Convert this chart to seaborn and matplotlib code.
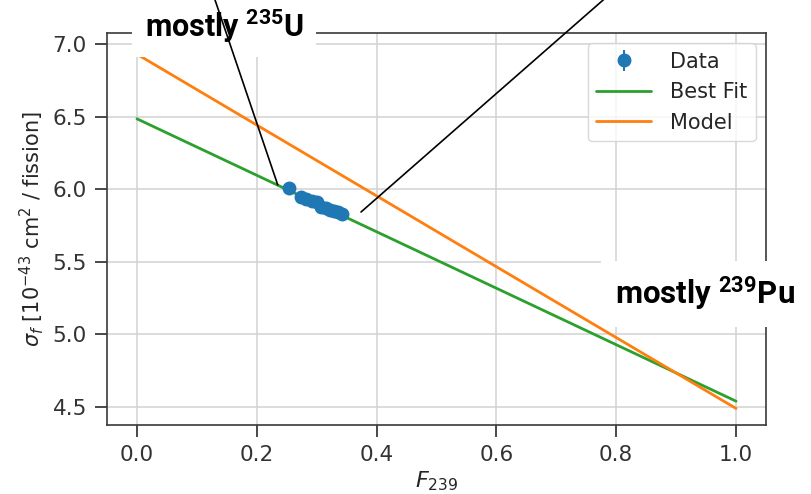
import matplotlib
matplotlib.use("Agg")
import matplotlib.pyplot as plt
import seaborn as sns
import pandas as pd

# ---- data ----
F239 = [0.254, 0.274, 0.283, 0.292, 0.300, 0.308, 0.315, 0.322, 0.329, 0.336, 0.343]
sigma = [6.01, 5.945, 5.935, 5.92, 5.91, 5.88, 5.87, 5.86, 5.85, 5.84, 5.83]
sigma_err = [0.012, 0.012, 0.012, 0.012, 0.012, 0.012, 0.012, 0.012, 0.012, 0.012, 0.012]
fit_x = [0.0, 1.0]
fit_y = [6.485, 4.54]
model_x = [0.0, 1.0]
model_y = [6.93, 4.49]
xticks = [0.0, 0.2, 0.4, 0.6, 0.8, 1.0]
yticks = [4.5, 5.0, 5.5, 6.0, 6.5, 7.0]
label_u = r"mostly $^{\mathbf{235}}$U"
label_pu = r"mostly $^{\mathbf{239}}$Pu"
arrow_u = (0.235, 6.03)
arrow_pu = (0.374, 5.843)

sns.set_theme(style="whitegrid")
plt.rcParams.update({
    "font.family": ["DejaVu Sans"],
    "mathtext.fontset": "custom",
    "mathtext.rm": "DejaVu Sans",
    "mathtext.it": "DejaVu Sans:italic",
    "mathtext.bf": "Roboto:bold",
    "axes.edgecolor": "#3a3a3a",
    "axes.linewidth": 1.2,
    "grid.color": "#d2d2d2",
    "grid.linewidth": 1.1,
    "xtick.color": "#3a3a3a",
    "ytick.color": "#3a3a3a",
    "xtick.labelcolor": "#333333",
    "ytick.labelcolor": "#333333",
})

fig = plt.figure(figsize=(8.11, 4.94), dpi=100)
ax = fig.add_axes([107 / 811, 1 - 425 / 494, (766 - 107) / 811, (425 - 33) / 494])

df_fit = pd.DataFrame({"x": fit_x, "y": fit_y})
df_model = pd.DataFrame({"x": model_x, "y": model_y})
sns.lineplot(data=df_fit, x="x", y="y", ax=ax, color="#2ca02c", lw=2.0, label="Best Fit")
sns.lineplot(data=df_model, x="x", y="y", ax=ax, color="#ff7f0e", lw=2.0, label="Model")
eb = ax.errorbar(F239, sigma, yerr=sigma_err, fmt="o", color="#1f77b4", ms=9,
                 elinewidth=1.5, label="Data", zorder=4)

ax.set_xlim(-0.05, 1.05)
ax.set_ylim(4.376, 7.076)
ax.set_xticks(xticks)
ax.set_yticks(yticks)
ax.tick_params(axis="both", which="major", direction="out", length=8.5, width=1.3,
               labelsize=15.5, pad=6, bottom=True, left=True)
for s in ax.spines.values():
    s.set_visible(True)
    s.set_color("#3a3a3a")

ax.set_xlabel(r"$F_{239}$", fontsize=16, labelpad=3)
ax.set_ylabel(r"$\sigma_f$ [$10^{-43}$ cm$^2$ / fission]", fontsize=15, labelpad=5)

handles, labels = ax.get_legend_handles_labels()
order = [labels.index("Data"), labels.index("Best Fit"), labels.index("Model")]
leg = ax.legend([handles[i] for i in order], [labels[i] for i in order],
                loc="upper right", fontsize=15, handlelength=2.65, handletextpad=0.9,
                borderaxespad=0.5, labelspacing=0.5, frameon=True, fancybox=True)
leg.get_frame().set_edgecolor("#d0d0d0")

# annotation boxes
ax.text(224 / 811, 1 - 26 / 494, label_u, transform=fig.transFigure, ha="center", va="center",
        fontsize=22, fontweight="bold", family="Roboto", color="black", zorder=10,
        clip_on=False,
        bbox=dict(boxstyle="square,pad=0.42", facecolor="white", edgecolor="none"))
ax.text(705 / 811, 1 - 294 / 494, label_pu, transform=fig.transFigure, ha="center", va="center",
        fontsize=22.5, fontweight="bold", family="Roboto", color="black", zorder=10,
        clip_on=False,
        bbox=dict(boxstyle="square,pad=0.45", facecolor="white", edgecolor="none"))

ax.annotate("", xy=arrow_u, xycoords="data", xytext=(213, 500), textcoords="figure pixels",
            arrowprops=dict(arrowstyle="-", color="black", lw=1.2, shrinkA=0, shrinkB=0),
            annotation_clip=False, zorder=11)
ax.annotate("", xy=arrow_pu, xycoords="data", xytext=(610, 500), textcoords="figure pixels",
            arrowprops=dict(arrowstyle="-", color="black", lw=1.2, shrinkA=0, shrinkB=0),
            annotation_clip=False, zorder=11)

fig.savefig("out.png", dpi=100)
